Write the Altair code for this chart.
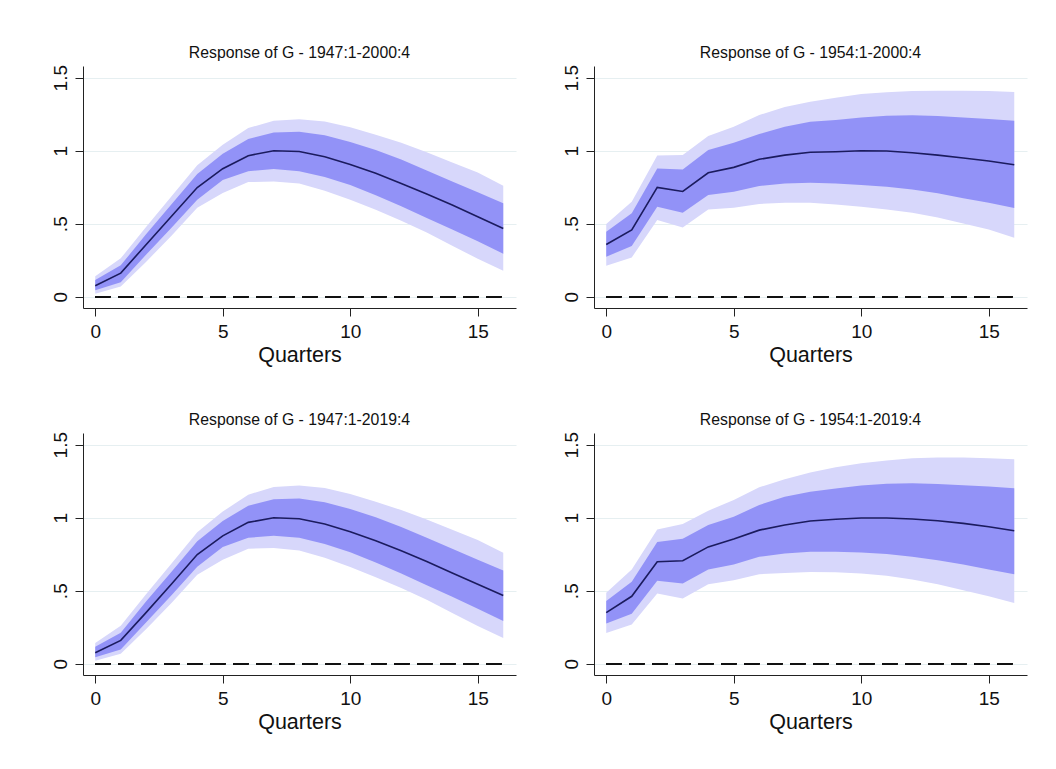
import altair as alt
import pandas as pd

quarters = list(range(17))

titles = [
    "Response of G - 1947:1-2000:4",
    "Response of G - 1954:1-2000:4",
    "Response of G - 1947:1-2019:4",
    "Response of G - 1954:1-2019:4",
]

# Panel A: 1947:1-2000:4
med_a = [0.075, 0.162, 0.358, 0.553, 0.748, 0.877, 0.966, 1.0, 0.995, 0.959, 0.906, 0.845, 0.776, 0.703, 0.628, 0.548, 0.468]
ihi_a = [0.115, 0.215, 0.43, 0.635, 0.84, 0.98, 1.08, 1.125, 1.13, 1.105, 1.06, 1.005, 0.94, 0.865, 0.79, 0.715, 0.64]
ilo_a = [0.045, 0.10, 0.29, 0.475, 0.665, 0.80, 0.86, 0.875, 0.86, 0.82, 0.765, 0.695, 0.62, 0.54, 0.46, 0.38, 0.295]
ohi_a = [0.14, 0.263, 0.48, 0.69, 0.90, 1.04, 1.155, 1.205, 1.215, 1.20, 1.16, 1.11, 1.055, 0.99, 0.92, 0.85, 0.76]
olo_a = [0.02, 0.07, 0.24, 0.42, 0.61, 0.71, 0.785, 0.79, 0.775, 0.725, 0.665, 0.595, 0.52, 0.44, 0.35, 0.26, 0.178]

# Panel B: 1954:1-2000:4
med_b = [0.358, 0.457, 0.749, 0.721, 0.849, 0.886, 0.941, 0.970, 0.989, 0.993, 1.0, 0.998, 0.986, 0.970, 0.950, 0.929, 0.904]
ihi_b = [0.445, 0.571, 0.879, 0.872, 1.005, 1.055, 1.114, 1.164, 1.199, 1.21, 1.228, 1.24, 1.242, 1.237, 1.228, 1.217, 1.205]
ilo_b = [0.274, 0.347, 0.616, 0.575, 0.696, 0.719, 0.758, 0.776, 0.781, 0.776, 0.765, 0.753, 0.735, 0.708, 0.674, 0.644, 0.607]
ohi_b = [0.498, 0.651, 0.968, 0.970, 1.10, 1.164, 1.244, 1.30, 1.336, 1.363, 1.388, 1.40, 1.409, 1.411, 1.411, 1.409, 1.402]
olo_b = [0.212, 0.269, 0.525, 0.475, 0.598, 0.61, 0.635, 0.644, 0.644, 0.632, 0.616, 0.598, 0.575, 0.543, 0.502, 0.461, 0.404]

# Panel C: 1947:1-2019:4
med_c = [0.076, 0.16, 0.352, 0.548, 0.748, 0.876, 0.968, 1.0, 0.993, 0.957, 0.904, 0.842, 0.773, 0.70, 0.622, 0.545, 0.467]
ihi_c = [0.117, 0.213, 0.428, 0.632, 0.838, 0.978, 1.082, 1.127, 1.132, 1.106, 1.06, 1.003, 0.937, 0.862, 0.787, 0.712, 0.638]
ilo_c = [0.045, 0.098, 0.285, 0.47, 0.665, 0.80, 0.862, 0.877, 0.862, 0.82, 0.763, 0.693, 0.618, 0.538, 0.458, 0.377, 0.293]
ohi_c = [0.142, 0.26, 0.478, 0.688, 0.90, 1.042, 1.158, 1.21, 1.22, 1.203, 1.162, 1.11, 1.052, 0.988, 0.918, 0.848, 0.76]
olo_c = [0.02, 0.068, 0.238, 0.418, 0.61, 0.712, 0.788, 0.792, 0.775, 0.725, 0.663, 0.592, 0.518, 0.438, 0.348, 0.258, 0.176]

# Panel D: 1954:1-2019:4
med_d = [0.35, 0.462, 0.698, 0.705, 0.80, 0.854, 0.915, 0.95, 0.977, 0.989, 0.998, 0.998, 0.991, 0.979, 0.961, 0.938, 0.911]
ihi_d = [0.43, 0.561, 0.833, 0.856, 0.95, 1.007, 1.087, 1.144, 1.178, 1.20, 1.22, 1.233, 1.236, 1.231, 1.222, 1.213, 1.201]
ilo_d = [0.275, 0.343, 0.568, 0.549, 0.645, 0.68, 0.732, 0.755, 0.767, 0.767, 0.762, 0.751, 0.732, 0.709, 0.68, 0.645, 0.613]
ohi_d = [0.487, 0.645, 0.92, 0.957, 1.048, 1.121, 1.208, 1.263, 1.309, 1.346, 1.373, 1.391, 1.407, 1.412, 1.412, 1.407, 1.40]
olo_d = [0.211, 0.268, 0.481, 0.446, 0.545, 0.572, 0.613, 0.622, 0.629, 0.627, 0.618, 0.602, 0.577, 0.545, 0.503, 0.462, 0.416]

x_ticks = [0, 5, 10, 15]
y_ticks = [0, 0.5, 1, 1.5]

OUTER = "#d7d7fb"
INNER = "#9292f7"
LINE = "#1b1b5e"
GRID = "#e6eff1"
FONT = "Liberation Sans"


def panel(title, med, ilo, ihi, olo, ohi):
    df = pd.DataFrame({"q": quarters, "med": med, "ilo": ilo, "ihi": ihi,
                       "olo": olo, "ohi": ohi})
    xs = alt.Scale(domain=[-0.48, 16.5], nice=False, zero=False)
    ys = alt.Scale(domain=[-0.077, 1.58], nice=False, zero=False)
    xax = alt.Axis(values=x_ticks, title="Quarters", grid=False,
                   labelFontSize=19, titleFontSize=21.5, titleFontWeight="normal",
                   tickSize=8, labelPadding=6, titlePadding=3,
                   domainColor="#222", tickColor="#222", labelColor="#111",
                   titleColor="#111", labelFont=FONT, titleFont=FONT,
                   labelFlush=False)
    yax = alt.Axis(values=y_ticks, title=None, grid=True, gridColor=GRID,
                   gridWidth=1.2, labelAngle=-90, labelAlign="center",
                   labelBaseline="alphabetic", labelFontSize=19,
                   labelPadding=9, tickSize=8, domainColor="#222",
                   tickColor="#222", labelColor="#111", labelFont=FONT,
                   labelFlush=False,
                   labelExpr="datum.value == 0 ? '0' : datum.value == 0.5 ? '.5' : datum.value == 1 ? '1' : '1.5'")
    base = alt.Chart(df)
    outer = base.mark_area(color=OUTER, opacity=1).encode(
        x=alt.X("q:Q", scale=xs, axis=xax),
        y=alt.Y("olo:Q", scale=ys, axis=yax),
        y2="ohi:Q",
    )
    inner = base.mark_area(color=INNER, opacity=1).encode(
        x="q:Q", y="ilo:Q", y2="ihi:Q"
    )
    line = base.mark_line(color=LINE, strokeWidth=1.6).encode(
        x="q:Q", y="med:Q"
    )
    zero = base.mark_rule(color="#111", strokeWidth=1.6, strokeDash=[15, 8]).encode(
        x=alt.datum(0), x2=alt.datum(16), y=alt.datum(0)
    )
    return alt.layer(outer, inner, line, zero).properties(
        width=433, height=242,
        title=alt.TitleParams(text=title, fontSize=15.8, font=FONT,
                              fontWeight="normal", anchor="middle",
                              baseline="alphabetic", offset=-9, color="#111"),
    )


pa = panel(titles[0], med_a, ilo_a, ihi_a, olo_a, ohi_a)
pb = panel(titles[1], med_b, ilo_b, ihi_b, olo_b, ohi_b)
pc = panel(titles[2], med_c, ilo_c, ihi_c, olo_c, ohi_c)
pd_ = panel(titles[3], med_d, ilo_d, ihi_d, olo_d, ohi_d)

chart = alt.concat(pa, pb, pc, pd_, columns=2,
                   spacing={"row": 125, "column": 78}, bounds="flush").properties(
    padding={"left": 42, "top": 36, "right": 5, "bottom": 5},
    background="white",
).configure_view(stroke=None)

chart.save("out.html", embed_options={"renderer": "svg", "actions": False})
